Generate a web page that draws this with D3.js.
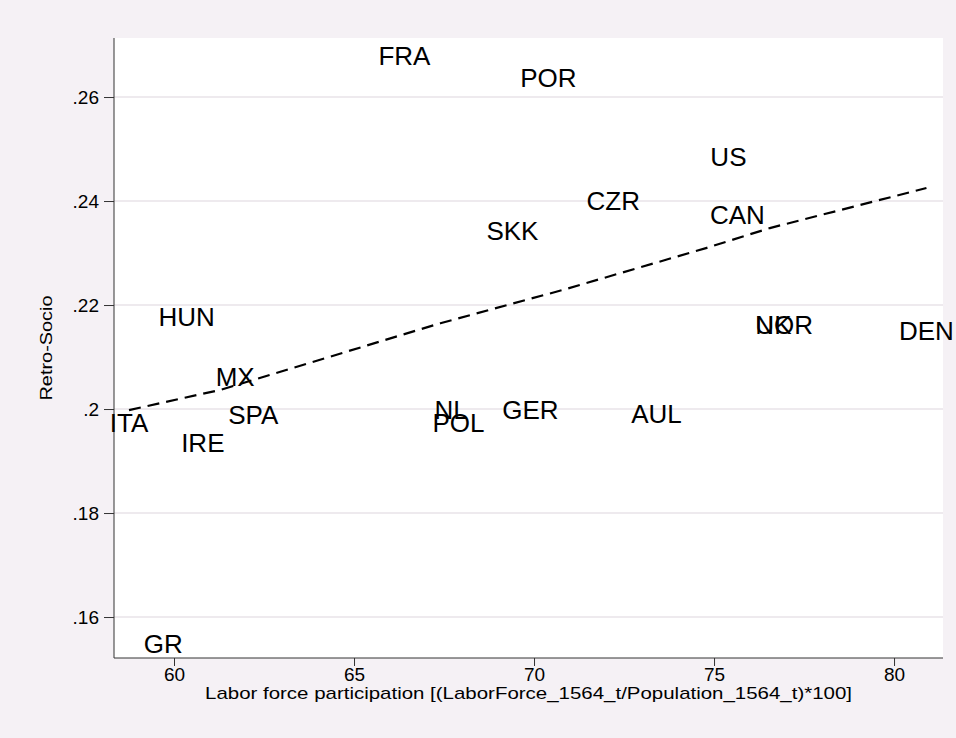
<!DOCTYPE html>
<html>
<head>
<meta charset="utf-8">
<script src="https://cdn.jsdelivr.net/npm/d3@7"></script>
<style>
  html, body { margin: 0; padding: 0; background: #f5f1f5; }
  svg { display: block; font-family: Arial, "Liberation Sans", sans-serif; }
</style>
</head>
<body>
<svg id="chart" width="956" height="738"></svg>
<script>
// Country codes with labour-force participation (x) and Retro-Socio score (y)
const countries = ["FRA", "POR", "US", "CZR", "CAN", "SKK", "HUN", "MX", "ITA", "SPA",
                   "IRE", "NL", "POL", "GER", "AUL", "UK", "NOR", "DEN", "GR"];
const participation = [66.4, 70.4, 75.4, 72.2, 75.65, 69.4, 60.35, 61.7, 58.75, 62.2,
                       60.8, 67.7, 67.9, 69.9, 73.4, 76.65, 76.95, 80.9, 59.7];
const retroSocio = [0.2679, 0.2638, 0.2485, 0.2400, 0.2373, 0.2344, 0.2177, 0.2063, 0.1973, 0.1990,
                    0.1935, 0.1998, 0.1973, 0.1998, 0.1992, 0.2162, 0.2162, 0.2150, 0.1548];

// Fitted trend (dashed line)
const fitX = [58.75, 61.3, 67.4, 70.8, 74.8, 76.55, 80.9];
const fitY = [0.1998, 0.2037, 0.2165, 0.2229, 0.2310, 0.2348, 0.2425];

const xTicks = [60, 65, 70, 75, 80];
const yTicks = [0.16, 0.18, 0.20, 0.22, 0.24, 0.26];
const yTickLabels = [".16", ".18", ".2", ".22", ".24", ".26"];

const xTitle = "Labor force participation [(LaborForce_1564_t/Population_1564_t)*100]";
const yTitle = "Retro-Socio";

const svg = d3.select("#chart");
const plot = { left: 114, right: 943, top: 38, bottom: 658 };

const x = d3.scaleLinear().domain([58.333, 81.36]).range([plot.left, plot.right]);
const y = d3.scaleLinear().domain([0.15212, 0.27135]).range([plot.bottom, plot.top]);

// plot region
svg.append("rect")
  .attr("x", plot.left).attr("y", plot.top)
  .attr("width", plot.right - plot.left).attr("height", plot.bottom - plot.top)
  .attr("fill", "#ffffff");

// horizontal grid
svg.append("g").selectAll("line").data(yTicks).join("line")
  .attr("x1", plot.left).attr("x2", plot.right)
  .attr("y1", d => y(d)).attr("y2", d => y(d))
  .attr("stroke", "#eeeaee").attr("stroke-width", 2);

// y axis
const yAxis = d3.axisLeft(y).tickValues(yTicks)
  .tickFormat((d, i) => yTickLabels[i]).tickSize(10).tickPadding(5);
const gy = svg.append("g").attr("transform", `translate(${plot.left},0)`).call(yAxis);
gy.select(".domain").attr("d", `M0,${plot.top}V${plot.bottom}`).attr("stroke", "#333");
gy.selectAll(".tick line").attr("stroke", "#333");
gy.selectAll(".tick text").attr("font-size", 19).attr("fill", "#000")
  .attr("font-family", "Arial, 'Liberation Sans', sans-serif");

// x axis
const xAxis = d3.axisBottom(x).tickValues(xTicks).tickSize(8).tickPadding(2);
const gx = svg.append("g").attr("transform", `translate(0,${plot.bottom})`).call(xAxis);
gx.select(".domain").attr("d", `M${plot.left},0H${plot.right}`).attr("stroke", "#333");
gx.selectAll(".tick line").attr("stroke", "#333");
gx.selectAll(".tick text").attr("font-size", 19).attr("fill", "#000")
  .attr("font-family", "Arial, 'Liberation Sans', sans-serif");

// axis titles
svg.append("text")
  .attr("x", (plot.left + plot.right) / 2).attr("y", 699)
  .attr("text-anchor", "middle").attr("font-size", 17)
  .attr("textLength", 647).attr("lengthAdjust", "spacingAndGlyphs")
  .text(xTitle);

svg.append("text")
  .attr("transform", `translate(52,${(plot.top + plot.bottom) / 2}) rotate(-90)`)
  .attr("text-anchor", "middle").attr("font-size", 17)
  .attr("textLength", 105).attr("lengthAdjust", "spacingAndGlyphs")
  .text(yTitle);

// fitted dashed line
const pts = fitX.map((v, i) => [v, fitY[i]]);
svg.append("path")
  .attr("d", d3.line().x(d => x(d[0])).y(d => y(d[1]))(pts))
  .attr("fill", "none").attr("stroke", "#000").attr("stroke-width", 2.2)
  .attr("stroke-dasharray", "12,7");

// country labels centred on each point
svg.append("g").selectAll("text").data(countries).join("text")
  .attr("x", (d, i) => x(participation[i]))
  .attr("y", (d, i) => y(retroSocio[i]))
  .attr("dy", "0.36em")
  .attr("text-anchor", "middle")
  .attr("font-size", 26)
  .attr("fill", "#000")
  .text(d => d);
</script>
</body>
</html>
